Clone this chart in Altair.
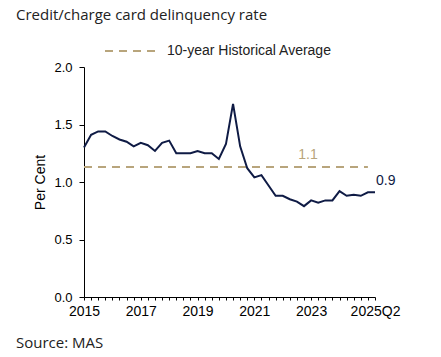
import altair as alt
import pandas as pd

# ---- data ----
years = list(range(2015, 2026))
quarters = [f"{y}Q{q}" for y in years for q in range(1, 5)][:42]  # 2015Q1 .. 2025Q2
rate = [1.30, 1.41, 1.44, 1.44, 1.40, 1.37, 1.35, 1.31, 1.34, 1.32,
        1.27, 1.34, 1.36, 1.25, 1.25, 1.25, 1.27, 1.25, 1.25, 1.20,
        1.33, 1.68, 1.31, 1.12, 1.04, 1.06, 0.97, 0.88, 0.88, 0.85,
        0.83, 0.79, 0.84, 0.82, 0.84, 0.84, 0.92, 0.88, 0.89, 0.88,
        0.91, 0.91]
avg_value = 1.13
avg_start, avg_end = "2015Q1", "2025Q1"
avg_label = "1.1"
avg_label_at = "2022Q4"
last_label = "0.9"
avg_series = "10-year Historical Average"
tick_quarters = ["2015Q1", "2017Q1", "2019Q1", "2021Q1", "2023Q1", "2025Q2"]
tick_labels = ["2015", "2017", "2019", "2021", "2023", "2025Q2"]
y_ticks = [0.0, 0.5, 1.0, 1.5, 2.0]

NAVY = "#0f1b45"
TAN = "#b8a57c"
FONT = "Liberation Sans"
TFONT = "Open Sans"

df = pd.DataFrame({"q": quarters, "rate": rate})
avg_df = pd.DataFrame({"x": [avg_start], "x2": [avg_end], "y": [avg_value], "series": [avg_series]})
lbl_df = pd.DataFrame({"x": [avg_label_at], "y": [avg_value], "t": [avg_label]})

expr = "''"
for q, t in reversed(list(zip(tick_quarters, tick_labels))):
    expr = f"datum.value == '{q}' ? '{t}' : ({expr})"

W, H = 291, 230

xscale = alt.Scale(type="point", domain=quarters, padding=0)
x_enc = alt.X("q:O", scale=xscale, sort=quarters,
              axis=alt.Axis(values=quarters, labelExpr=expr, labelOverlap=False, labelAngle=0,
                            labelAlign="center", labelBaseline="top",
                            labelFlush=False, tickSize=3, labelPadding=4, title=None, grid=False,
                            domainColor="black", tickColor="black", labelFont=FONT, labelFontSize=14,
                            labelColor="black"))
y_enc = alt.Y("rate:Q", scale=alt.Scale(domain=[0, 2], nice=False),
              axis=alt.Axis(values=y_ticks, format=".1f", tickSize=5, labelPadding=7, title="Per Cent",
                            titleFont=FONT, titleFontSize=14, titleFontWeight="normal", titleColor="black",
                            titlePadding=6, grid=False, domainColor="black", tickColor="black",
                            labelFont=FONT, labelFontSize=13, labelColor="black"))

line = alt.Chart(df).mark_line(color=NAVY, strokeWidth=2).encode(x=x_enc, y=y_enc)

avg = alt.Chart(avg_df).mark_rule(strokeWidth=2, strokeDash=[8, 6], color=TAN).encode(
    x=alt.X("x:O", scale=xscale), x2="x2", y="y:Q")

avg_txt = alt.Chart(lbl_df).mark_text(color=TAN, font=FONT, fontSize=14, dx=4, dy=-12).encode(
    x=alt.X("x:O", scale=xscale), y="y:Q", text="t:N")

last_df = df.tail(1).assign(t=last_label)
last_txt = alt.Chart(last_df).mark_text(color=NAVY, font=FONT, fontSize=14, align="left", dx=1, dy=-11).encode(
    x=alt.X("q:O", scale=xscale), y="rate:Q", text="t:N")

# legend (manual)
leg_rule = alt.Chart(df.head(1)).mark_rule(strokeWidth=2, strokeDash=[8, 6], color=TAN).encode(
    x=alt.value(21), x2=alt.value(72), y=alt.value(-16))
leg_txt = alt.Chart(df.head(1)).mark_text(font=FONT, fontSize=14, align="left", baseline="middle",
                                          color="#222").encode(
    x=alt.value(83), y=alt.value(-16), text=alt.value(avg_series))

title = alt.Chart(df.head(1)).mark_text(font=TFONT, fontSize=15, align="left", baseline="middle",
                                        color="#222").encode(
    x=alt.value(-68), y=alt.value(-52), text=alt.value("Credit/charge card delinquency rate"))
source = alt.Chart(df.head(1)).mark_text(font=TFONT, fontSize=15, align="left", baseline="middle",
                                         color="#222").encode(
    x=alt.value(-68), y=alt.value(276), text=alt.value("Source: MAS"))

chart = alt.layer(avg, line, avg_txt, last_txt, leg_rule, leg_txt, title, source).properties(
    width=W, height=H, autosize=alt.AutoSizeParams(type="none"),
    padding={"left": 84, "top": 67, "right": 66, "bottom": 60},
    background="white",
).configure_view(stroke=None)

chart.save("out.html", embed_options={"renderer": "svg", "actions": False})
